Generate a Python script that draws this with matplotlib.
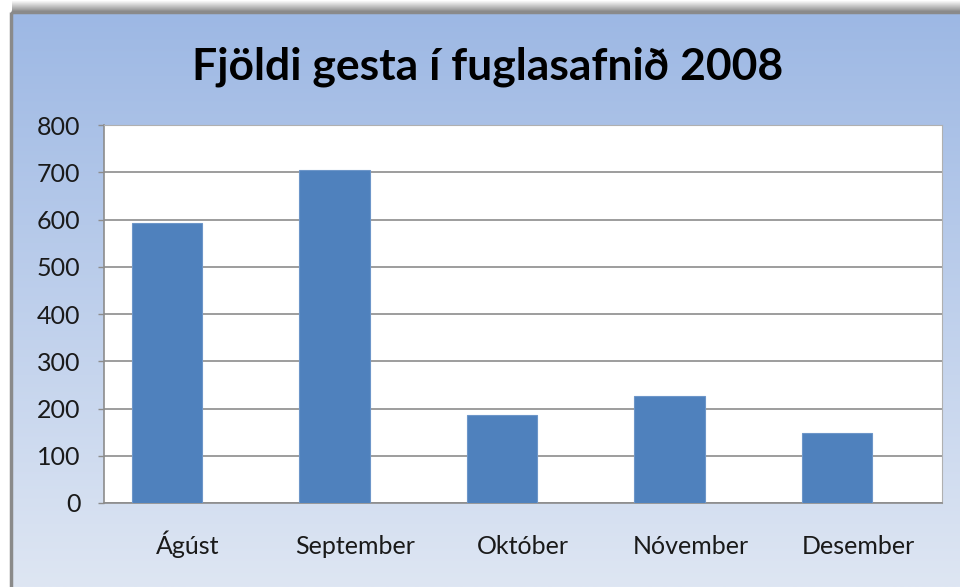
import numpy as np
import matplotlib.pyplot as plt
from matplotlib.patches import Rectangle

months = ['Ágúst', 'September', 'Október', 'Nóvember', 'Desember']
visitors = [593, 704, 186, 226, 148]
yticks = [0, 100, 200, 300, 400, 500, 600, 700, 800]

plt.rcParams['font.family'] = ['Lato', 'DejaVu Sans']

W, H = 960, 587
fig = plt.figure(figsize=(W / 100, H / 100), dpi=100)

# background: whole figure in pixel coordinates
bg = fig.add_axes([0, 0, 1, 1])
bg.set_xlim(0, W)
bg.set_ylim(H, 0)
bg.axis('off')

# soft shadow above the chart frame
shadow = np.linspace(1.0, 0.55, 12)
bg.imshow(np.tile(shadow[:, None], (1, 2)), cmap='gray', vmin=0, vmax=1,
          extent=[12, W, 12, 0], aspect='auto', interpolation='bilinear')

# blue gradient fill of the chart area
top = np.array([157, 184, 228]) / 255
bot = np.array([222, 230, 243]) / 255
t = np.linspace(0, 1, 256)[:, None]
grad = (top * (1 - t) + bot * t)[:, None, :]
bg.imshow(grad, extent=[12, W, H, 13], aspect='auto', interpolation='bilinear')
bg.add_patch(Rectangle((10.5, 11.5), W, H, fill=False, ec='#8a8a8a', lw=2.5))

bg.text(488, 67, 'Fjöldi gesta í fuglasafnið 2008', ha='center', va='center',
        fontsize=32, fontweight='bold', color='black')

# plot area
ax = fig.add_axes([104 / W, 84 / H, 838 / W, 378 / H])
ax.set_facecolor('white')
x = np.arange(len(months))
ax.bar(x - 0.125, visitors, width=0.42, color='#4F81BD', edgecolor='#6d96c9',
       lw=0.8, zorder=3)
ax.set_xlim(-0.5, len(months) - 0.5)
ax.set_ylim(0, 800)
ax.set_yticks(yticks)
ax.set_xticks(x)
ax.set_xticklabels(months, va='baseline')
ax.yaxis.grid(True, color='#8c8c8c', lw=1.2, zorder=0)
ax.tick_params(axis='y', length=4, width=1, color='#8c8c8c', pad=13, labelsize=18)
ax.tick_params(axis='x', length=0, pad=37, labelsize=18)
for s in ['left', 'bottom']:
    ax.spines[s].set_color('#8c8c8c')
    ax.spines[s].set_linewidth(1.2)
for s in ['top', 'right']:
    ax.spines[s].set_color('#b0b0b0')
    ax.spines[s].set_linewidth(0.8)
for lab in ax.get_xticklabels() + ax.get_yticklabels():
    lab.set_color('#1a1a1a')

fig.savefig('out.png', dpi=100)
